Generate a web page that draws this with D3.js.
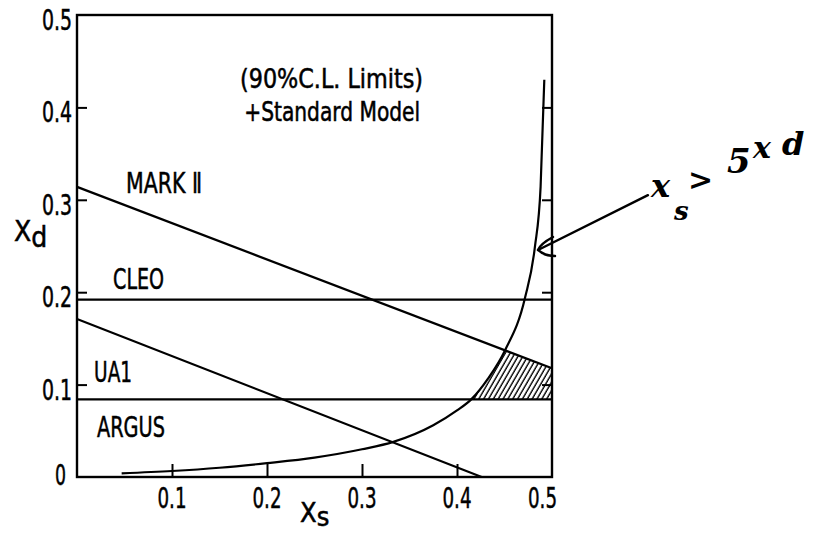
<!DOCTYPE html>
<html>
<head>
<meta charset="utf-8">
<script src="https://cdn.jsdelivr.net/npm/d3@7/dist/d3.min.js"></script>
<style>
  html, body { margin: 0; padding: 0; background: #fff; }
  svg { display: block; }
  .lbl { font-family: "Liberation Sans Narrow", "DejaVu Sans Condensed", "DejaVu Sans", sans-serif; fill: #000; stroke: #000; stroke-width: 0.5; }
  .hand { font-family: "DejaVu Serif", serif; font-style: italic; font-weight: bold; fill: #000; }
</style>
</head>
<body>
<svg id="chart" width="813" height="533"></svg>
<script>
// Axis ticks
const xTicks = [0.1, 0.2, 0.3, 0.4, 0.5];
const yTicks = [0, 0.1, 0.2, 0.3, 0.4, 0.5];
const innerTicks = [0.1, 0.2, 0.3, 0.4];

// 90% C.L. limits: straight lines in the (x_s, x_d) plane
const limitNames   = ["MARK Ⅱ", "CLEO", "UA1", "ARGUS"];
const limitXdStart = [0.314, 0.192, 0.171, 0.084];   // x_d at x_s = 0
const limitXsEnd   = [0.5, 0.5, 0.426, 0.5];
const limitXdEnd   = [0.1176, 0.192, 0, 0.084];

// Limit label anchors (x_s, x_d of text baseline start)
const labelXs = [0.0516, 0.038, 0.018, 0.021];
const labelXd = [0.307, 0.2035, 0.103, 0.0436];
const labelWidths = [76, 51, 38, 68];

// Standard Model relation x_d(x_s)
const smXs = [0.047, 0.1, 0.15, 0.2, 0.25, 0.3, 0.333, 0.375, 0.4, 0.415, 0.433, 0.4505, 0.4716, 0.482, 0.488, 0.4919];
const smXd = [0.004, 0.0065, 0.010, 0.015, 0.021, 0.030, 0.038, 0.056, 0.072, 0.084, 0.107, 0.137, 0.194, 0.249, 0.314, 0.43];

const svg = d3.select("#chart");
const x = d3.scaleLinear().domain([0, 0.5]).range([77, 552]);
const y = d3.scaleLinear().domain([0, 0.5]).range([477, 15]);

// hatch pattern for the allowed region
const defs = svg.append("defs");
const pat = defs.append("pattern")
  .attr("id", "hatch").attr("patternUnits", "userSpaceOnUse")
  .attr("width", 4.2).attr("height", 10)
  .attr("patternTransform", "rotate(30)");
pat.append("line").attr("x1", 1).attr("y1", 0).attr("x2", 1).attr("y2", 10)
  .attr("stroke", "#000").attr("stroke-width", 1.4);

// allowed region: right of the SM curve, between ARGUS and MARK II
const argusXd = limitXdStart[3];
const markAt = xs => limitXdStart[0] + (limitXdEnd[0] - limitXdStart[0]) * xs / limitXsEnd[0];
const region = [];
smXs.forEach((xs, i) => {
  if (smXd[i] >= argusXd && smXd[i] <= markAt(xs) + 1e-4) region.push([xs, smXd[i]]);
});
region.push([0.5, limitXdEnd[0]]);
region.push([0.5, argusXd]);
svg.append("path")
  .attr("d", d3.line().x(d => x(d[0])).y(d => y(d[1]))(region) + "Z")
  .attr("fill", "url(#hatch)").attr("stroke", "none");

// frame
svg.append("rect")
  .attr("x", x(0)).attr("y", y(0.5))
  .attr("width", x(0.5) - x(0)).attr("height", y(0) - y(0.5))
  .attr("fill", "none").attr("stroke", "#000").attr("stroke-width", 2.4);

// inward ticks
const tickGroup = (axis, tr) => {
  const g = svg.append("g").attr("transform", tr).call(axis);
  g.select(".domain").remove();
  g.selectAll(".tick line").attr("stroke", "#000").attr("stroke-width", 2);
  g.selectAll(".tick text").remove();
};
tickGroup(d3.axisLeft(y).tickValues(innerTicks).tickSize(-10), `translate(${x(0)},0)`);
tickGroup(d3.axisRight(y).tickValues(innerTicks).tickSize(-10), `translate(${x(0.5)},0)`);
tickGroup(d3.axisBottom(x).tickValues(innerTicks).tickSize(-13), `translate(0,${y(0)})`);

// tick labels
const fs = 29;
yTicks.forEach(v => {
  const isZero = v === 0;
  svg.append("text").attr("class", "lbl")
    .attr("x", isZero ? 66 : 72)
    .attr("y", isZero ? 485 : y(v) + 15)
    .attr("text-anchor", "end")
    .attr("font-size", fs)
    .attr("textLength", isZero ? 11 : 30).attr("lengthAdjust", "spacingAndGlyphs")
    .text(isZero ? "0" : d3.format(".1f")(v));
});
xTicks.forEach(v => {
  const last = v === 0.5;
  svg.append("text").attr("class", "lbl")
    .attr("x", last ? x(v) + 5 : x(v) - 14.5)
    .attr("y", 508)
    .attr("text-anchor", last ? "end" : "start")
    .attr("font-size", fs)
    .attr("textLength", 29).attr("lengthAdjust", "spacingAndGlyphs")
    .text(d3.format(".1f")(v));
});

// axis titles
const xt = svg.append("text").attr("class", "lbl").attr("x", 300).attr("y", 522).attr("font-size", 27);
xt.append("tspan").text("X");
xt.append("tspan").attr("dy", 4).text("s");
const yt = svg.append("text").attr("class", "lbl").attr("x", 14).attr("y", 241).attr("font-size", 28);
yt.append("tspan").text("X");
yt.append("tspan").attr("dy", 6).text("d");

// limit lines
limitNames.forEach((name, i) => {
  svg.append("line")
    .attr("x1", x(0)).attr("y1", y(limitXdStart[i]))
    .attr("x2", x(limitXsEnd[i])).attr("y2", y(limitXdEnd[i]))
    .attr("stroke", "#000").attr("stroke-width", 2.2);
  svg.append("text").attr("class", "lbl")
    .attr("x", x(labelXs[i])).attr("y", y(labelXd[i]))
    .attr("font-size", fs)
    .attr("textLength", labelWidths[i]).attr("lengthAdjust", "spacingAndGlyphs")
    .text(name);
});

// Standard Model curve
svg.append("path")
  .attr("d", d3.line().x((d, i) => x(smXs[i])).y((d, i) => y(smXd[i])).curve(d3.curveMonotoneX)(smXs))
  .attr("fill", "none").attr("stroke", "#000").attr("stroke-width", 2.2);

// header
const header = [["(90%C.L. Limits)", 0.1716, 0.421, 183], ["+Standard Model", 0.176, 0.385, 176]];
header.forEach(h => {
  svg.append("text").attr("class", "lbl")
    .attr("x", x(h[1])).attr("y", y(h[2]))
    .attr("font-size", 26)
    .attr("textLength", h[3]).attr("lengthAdjust", "spacingAndGlyphs")
    .text(h[0]);
});

// hand-written note with arrow to the SM curve
const tip = [x(0.4853), y(0.2457)], tail = [x(0.601), y(0.305)];
svg.append("line")
  .attr("x1", tail[0]).attr("y1", tail[1]).attr("x2", tip[0]).attr("y2", tip[1])
  .attr("stroke", "#000").attr("stroke-width", 2.4).attr("stroke-linecap", "round");
svg.append("path")
  .attr("d", `M${tip[0] + 15},${tip[1] - 13} Q${tip[0] + 2},${tip[1] - 6} ${tip[0]},${tip[1]} Q${tip[0] + 6},${tip[1] + 6} ${tip[0] + 17},${tip[1] + 6}`)
  .attr("fill", "none").attr("stroke", "#000").attr("stroke-width", 2.4).attr("stroke-linecap", "round");

const note = [
  ["x", 651, 197, 32], ["s", 674, 220, 26], [">", 688, 190, 30],
  ["5", 727, 173, 34], ["x", 753, 158, 30], ["d", 782, 155, 32]
];
note.forEach(n => {
  svg.append("text").attr("class", "hand")
    .attr("x", n[1]).attr("y", n[2]).attr("font-size", n[3]).text(n[0]);
});
</script>
</body>
</html>
